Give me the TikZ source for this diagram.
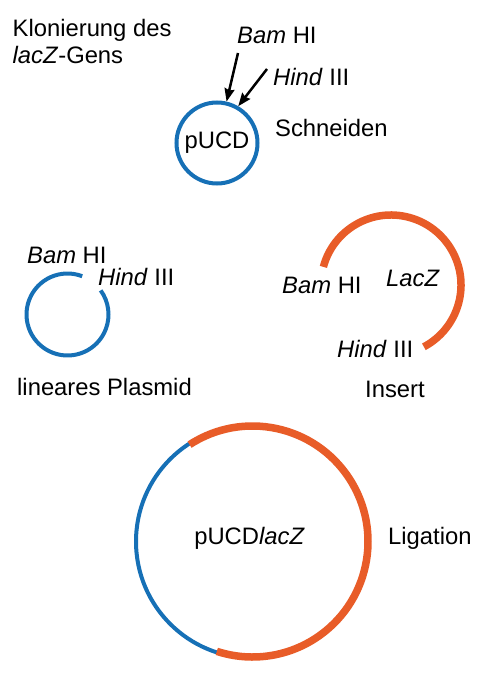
\documentclass[tikz,border=0pt]{standalone}
\usepackage{fontspec}
\setmainfont{Liberation Sans}
\usetikzlibrary{arrows.meta}
\definecolor{plasBlue}{RGB}{22,112,182}
\definecolor{insOrange}{RGB}{232,92,40}
\tikzset{
  plasln/.style={line width=4pt, plasBlue},
  insln/.style={line width=7.5pt, insOrange},
  cutarr/.style={-{Stealth[length=13pt,width=10pt,inset=1.5pt]}, line width=2.5pt},
  lbl/.style={anchor=base west, inner sep=0pt, font=\fontsize{23.8}{26.7}\selectfont},
}
\newcommand{\bamhi}{\textit{Bam} HI}
\newcommand{\hindiii}{\textit{Hind} III}

\begin{document}
\begin{tikzpicture}[x=1pt,y=-1pt]
        \useasboundingbox (0,0) rectangle (482,680);
        \node[lbl, align=left, anchor=north west] (title) at (12.5,19.5) {Klonierung des\\\textit{lacZ}-Gens};
        % schneiden
        \node[circle, draw=plasBlue, line width=4pt, minimum size=81pt, inner sep=0pt,
          font=\fontsize{23.8}{26.7}\selectfont] (pucd) at (217,143) {pUCD};
        \node[lbl] (bamA) at (237,43) {\bamhi};
        \node[lbl] (hindA) at (273,85) {\hindiii};
        \node[lbl] (schneiden) at (275,136) {Schneiden};
        \coordinate (bamtail) at (238,53);
        \coordinate (hindtail) at (267,69);
        \draw[cutarr] (bamtail) -- (pucd.77);
        \draw[cutarr] (hindtail) -- (pucd.60);
        % lineares plasmid
        \draw[plasln] (67.5,314.5) ++(-69:41) arc[start angle=-69, end angle=-396, radius=41];
        \node[lbl] (bamB) at (27,263) {\bamhi};
        \node[lbl] (hindB) at (98,285) {\hindiii};
        \node[lbl] (linear) at (17,395) {lineares Plasmid};
        % insert
        \draw[insln] (391,285) ++(-165:70) arc[start angle=-165, end angle=62, radius=70];
        \node[lbl] (bamC) at (282,293) {\bamhi};
        \node[lbl] (lacz) at (386,286) {\textit{LacZ}};
        \node[lbl] (hindC) at (337,357) {\hindiii};
        \node[lbl] (insert) at (365,397) {Insert};
        % ligation
        \draw[plasln] (252.5,541.5) circle (116.5);
        \draw[insln] (252.5,541.5) ++(-123:115.5) arc[start angle=-123, end angle=108, radius=115.5];
        \node[font=\fontsize{23.8}{26.7}\selectfont] (pucdlacz) at (249.5,538) {pUCD\textit{lacZ}};
        \node[lbl] (ligation) at (388,544) {Ligation};
      \end{tikzpicture}
\end{document}
